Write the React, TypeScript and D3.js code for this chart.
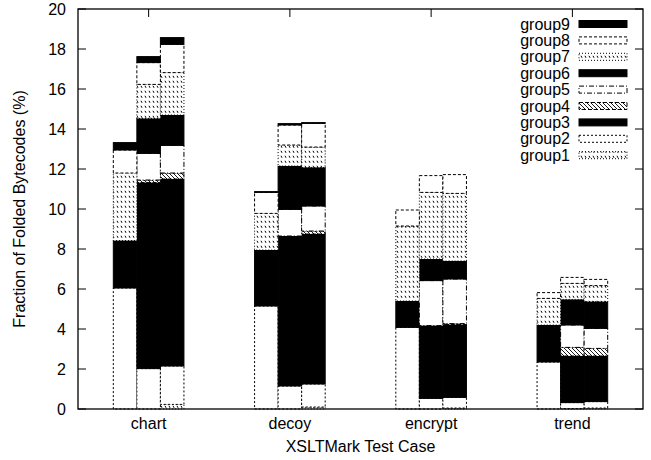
import React, { useRef, useEffect } from "react";
import * as d3 from "d3";

const categories = ["chart", "decoy", "encrypt", "trend"];
const yTicks = [0, 2, 4, 6, 8, 10, 12, 14, 16, 18, 20];

// 12 bars: three per test case, bottom group first
const group1 = [0, 0, 0.23, 0, 0, 0.1, 0, 0, 0.05, 0, 0.02, 0.05];
const group2 = [6.05, 2.02, 1.92, 5.15, 1.15, 1.15, 4.08, 0.53, 0.53, 2.35, 0.3, 0.32];
const group3 = [2.37, 9.3, 9.35, 2.8, 7.5, 7.5, 1.32, 3.64, 3.64, 1.85, 2.33, 2.28];
const group4 = [0, 0.13, 0.3, 0, 0, 0.15, 0, 0, 0.05, 0, 0.43, 0.38];
const group5 = [0, 1.33, 1.38, 0, 1.33, 1.25, 0, 2.25, 2.23, 0, 1.12, 1.0];
const group6 = [0, 1.75, 1.52, 0, 2.17, 1.93, 0, 1.08, 0.9, 0, 1.28, 1.34];
const group7 = [3.38, 1.7, 2.12, 1.83, 1.05, 1.02, 3.75, 3.33, 3.38, 1.33, 0.8, 0.8];
const group8 = [1.15, 1.09, 1.41, 1.05, 1.0, 1.18, 0.8, 0.84, 0.94, 0.29, 0.3, 0.31];
const group9 = [0.37, 0.3, 0.34, 0.04, 0.07, 0.04, 0, 0, 0, 0, 0, 0];

const groups = ["group1", "group2", "group3", "group4", "group5", "group6", "group7", "group8", "group9"];
const series = [group1, group2, group3, group4, group5, group6, group7, group8, group9];

// fill and border per group (gnuplot-like)
const fills = ["url(#patA)", "#fff", "#000", "url(#patB)", "#fff", "#000", "url(#patA)", "#fff", "#000"];
const dashes = ["1 2", "2 2", null, "4 2", "5 2 1 2", null, "1 2", "3 2", null];

const FONT = "'Liberation Sans', Arial, Helvetica, sans-serif";
const FS = 16;

const Chart = () => {
  const svgRef = useRef();

  useEffect(() => {
    const svg = d3.select(svgRef.current);
    svg.selectAll("*").remove();

    const width = 651;
    const height = 460;
    const margin = { top: 9, right: 8, bottom: 51, left: 78 };

    const x = d3.scaleLinear().domain([-0.5, 3.5]).range([margin.left, width - margin.right]);
    const y = d3.scaleLinear().domain([0, 20]).range([height - margin.bottom, margin.top]);

    const defs = svg.append("defs");
    const pa = defs.append("pattern").attr("id", "patA").attr("patternUnits", "userSpaceOnUse")
      .attr("width", 4).attr("height", 5);
    pa.append("rect").attr("width", 4).attr("height", 5).attr("fill", "#fff");
    pa.append("path").attr("d", "M1,0.8 L2,2.8").attr("stroke", "#000").attr("stroke-width", 1);
    const pb = defs.append("pattern").attr("id", "patB").attr("patternUnits", "userSpaceOnUse")
      .attr("width", 4).attr("height", 4);
    pb.append("rect").attr("width", 4).attr("height", 4).attr("fill", "#fff");
    pb.append("path").attr("d", "M0,0 L4,4").attr("stroke", "#000").attr("stroke-width", 0.9);

    const rows = d3.range(12).map((i) => {
      const r = { idx: i };
      groups.forEach((g, k) => (r[g] = series[k][i]));
      return r;
    });
    const stacked = d3.stack().keys(groups)(rows);

    const barW = 1 / 6;
    const barLeft = (i) => x(Math.floor(i / 3) - 0.25 + (i % 3) * barW);

    // ticks (inward, mirrored)
    const tg = svg.append("g").attr("stroke", "#000").attr("stroke-width", 1);
    yTicks.forEach((t) => {
      tg.append("line").attr("x1", margin.left).attr("x2", margin.left + 8).attr("y1", y(t)).attr("y2", y(t));
      tg.append("line").attr("x1", width - margin.right).attr("x2", width - margin.right - 8).attr("y1", y(t)).attr("y2", y(t));
    });
    categories.forEach((c, i) => {
      tg.append("line").attr("x1", x(i)).attr("x2", x(i)).attr("y1", y(0)).attr("y2", y(0) - 8);
      tg.append("line").attr("x1", x(i)).attr("x2", x(i)).attr("y1", y(20)).attr("y2", y(20) + 8);
    });

    // bars
    stacked.forEach((layer, k) => {
      svg.append("g")
        .selectAll("rect")
        .data(layer.filter((d) => d[1] - d[0] > 0))
        .join("rect")
        .attr("x", (d) => barLeft(d.data.idx))
        .attr("y", (d) => y(d[1]))
        .attr("width", x(barW) - x(0))
        .attr("height", (d) => y(d[0]) - y(d[1]))
        .attr("fill", fills[k])
        .attr("stroke", "#000")
        .attr("stroke-width", 1)
        .attr("stroke-dasharray", dashes[k]);
    });

    // frame
    svg.append("rect")
      .attr("x", margin.left).attr("y", margin.top)
      .attr("width", width - margin.left - margin.right)
      .attr("height", height - margin.top - margin.bottom)
      .attr("fill", "none").attr("stroke", "#000").attr("stroke-width", 1.3);

    // tick labels
    svg.append("g").selectAll("text").data(yTicks).join("text")
      .attr("x", 66).attr("y", (d) => y(d)).attr("dy", "0.35em")
      .attr("text-anchor", "end").attr("font-family", FONT).attr("font-size", FS)
      .text((d) => d);
    svg.append("g").selectAll("text").data(categories).join("text")
      .attr("x", (d, i) => x(i)).attr("y", 429)
      .attr("text-anchor", "middle").attr("font-family", FONT).attr("font-size", FS)
      .text((d) => d);

    svg.append("text")
      .attr("x", (margin.left + width - margin.right) / 2).attr("y", 452)
      .attr("text-anchor", "middle").attr("font-family", FONT).attr("font-size", FS)
      .text("XSLTMark Test Case");
    svg.append("text")
      .attr("transform", `translate(25, ${(margin.top + height - margin.bottom) / 2}) rotate(-90)`)
      .attr("text-anchor", "middle").attr("font-family", FONT).attr("font-size", FS)
      .text("Fraction of Folded Bytecodes (%)");

    // legend, group9 on top
    const lg = svg.append("g");
    groups.slice().reverse().forEach((g, j) => {
      const k = groups.length - 1 - j;
      const cy = 24 + j * 16.4;
      lg.append("text").attr("x", 570).attr("y", cy).attr("dy", "0.35em")
        .attr("text-anchor", "end").attr("font-family", FONT).attr("font-size", FS)
        .text(g);
      lg.append("rect").attr("x", 579).attr("y", cy - 3.5).attr("width", 48).attr("height", 7)
        .attr("fill", fills[k]).attr("stroke", "#000").attr("stroke-width", 1)
        .attr("stroke-dasharray", dashes[k]);
    });
  }, []);

  return <svg ref={svgRef} width={651} height={460} style={{ display: "block" }}></svg>;
};

export default function App() {
  return (
    <div style={{ position: "absolute", left: 0, top: 0 }}>
      <Chart />
    </div>
  );
}
